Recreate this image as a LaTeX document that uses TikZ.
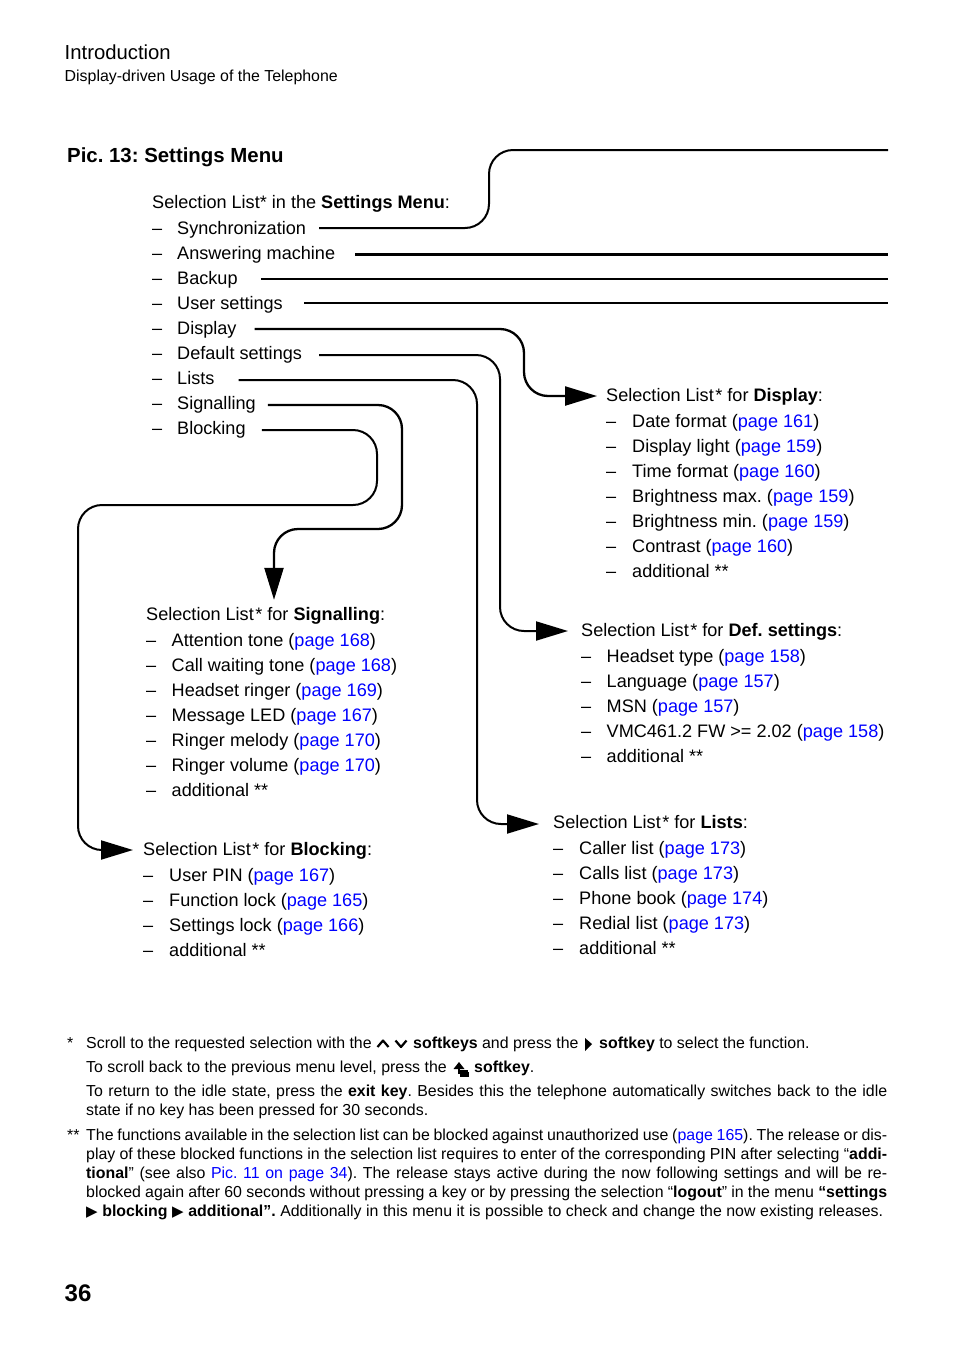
\documentclass[tikz,border=0pt]{standalone}
\usepackage{fontspec}
\setmainfont{Liberation Sans}
\newfontfamily\symfont{DejaVu Sans}
\usetikzlibrary{arrows.meta}
\definecolor{linkblue}{RGB}{0,0,255}
\frenchspacing
\newcommand{\pg}[1]{\textcolor{linkblue}{#1}}
\newcommand{\tri}{{\symfont\fontsize{15}{15}\selectfont ▶}}
\newcommand{\sel}{Selection List\kern1.5pt* for}
\newcommand{\entry}[5]{%
  \node[body] (#1-d) at (#2,#4) {–};
  \node[body] (#1) at (#3,#4) {#5};}
\newcommand{\fn}[3]{\node[foot] (#1) at (86,#2) {\makebox[801pt][s]{#3}};}
\tikzset{
  base/.style={anchor=base west,inner sep=0pt,text height=12pt,text depth=0pt},
  body/.style={base,font=\fontsize{18.1}{22}\selectfont},
  foot/.style={base,font=\fontsize{15.9}{20}\selectfont},
  link/.style={draw=black,line width=2pt,rounded corners=24pt},
  heavy/.style={link,line width=3pt},
  mid/.style={link,line width=2.3pt},
  head/.style={-{Triangle[length=32pt,width=19pt]}},
  softglyph/.style={draw=black,line width=2.2pt,line join=round},
}
\begin{document}
\begin{tikzpicture}[x=1pt,y=-1pt]
\useasboundingbox (0,0) rectangle (954,1352);
\fill[white] (0,0) rectangle (954,1352);

\node[base,font=\fontsize{20.3}{24}\selectfont] (intro) at (64.5,59) {Introduction};
\node[foot] (sub) at (64.5,81) {Display-driven Usage of the Telephone};
\node[base,font=\bfseries\fontsize{20.4}{24}\selectfont] (title) at (67,162) {Pic. 13: Settings Menu};

% main list
\node[body] (mainh) at (152,208) {Selection List* in the \textbf{Settings Menu}:};
\entry{sync}{152}{177}{234}{Synchronization}
\entry{answ}{152}{177}{259}{Answering machine}
\entry{back}{152}{177}{284}{Backup}
\entry{user}{152}{177}{309}{User settings}
\entry{disp}{152}{177}{334}{Display}
\entry{defs}{152}{177}{359}{Default settings}
\entry{lists}{152}{177}{384}{Lists}
\entry{sign}{152}{177}{409}{Signalling}
\entry{bloc}{152}{177}{434}{Blocking}

% display
\node[body] (disph) at (606,401) {\sel\ \textbf{Display}:};
\entry{d1}{606}{632}{427}{Date format (\pg{page 161})}
\entry{d2}{606}{632}{452}{Display light (\pg{page 159})}
\entry{d3}{606}{632}{477}{Time format (\pg{page 160})}
\entry{d4}{606}{632}{502}{Brightness max. (\pg{page 159})}
\entry{d5}{606}{632}{527}{Brightness min. (\pg{page 159})}
\entry{d6}{606}{632}{552}{Contrast (\pg{page 160})}
\entry{d7}{606}{632}{577}{additional **}

% default settings
\node[body] (defh) at (581,636) {\sel\ \textbf{Def. settings}:};
\entry{e1}{581}{606.5}{662}{Headset type (\pg{page 158})}
\entry{e2}{581}{606.5}{687}{Language (\pg{page 157})}
\entry{e3}{581}{606.5}{712}{MSN (\pg{page 157})}
\entry{e4}{581}{606.5}{737}{VMC461.2 FW >= 2.02 (\pg{page 158})}
\entry{e5}{581}{606.5}{762}{additional **}

% signalling
\node[body] (sigh) at (146,620) {\sel\ \textbf{Signalling}:};
\entry{s1}{146}{171.5}{646}{Attention tone (\pg{page 168})}
\entry{s2}{146}{171.5}{671}{Call waiting tone (\pg{page 168})}
\entry{s3}{146}{171.5}{696}{Headset ringer (\pg{page 169})}
\entry{s4}{146}{171.5}{721}{Message LED (\pg{page 167})}
\entry{s5}{146}{171.5}{746}{Ringer melody (\pg{page 170})}
\entry{s6}{146}{171.5}{771}{Ringer volume (\pg{page 170})}
\entry{s7}{146}{171.5}{796}{additional **}

% lists
\node[body] (lish) at (553,828) {\sel\ \textbf{Lists}:};
\entry{l1}{553}{579}{854}{Caller list (\pg{page 173})}
\entry{l2}{553}{579}{879}{Calls list (\pg{page 173})}
\entry{l3}{553}{579}{904}{Phone book (\pg{page 174})}
\entry{l4}{553}{579}{929}{Redial list (\pg{page 173})}
\entry{l5}{553}{579}{954}{additional **}

% blocking
\node[body] (bloh) at (143,855) {\sel\ \textbf{Blocking}:};
\entry{b1}{143}{169}{881}{User PIN (\pg{page 167})}
\entry{b2}{143}{169}{906}{Function lock (\pg{page 165})}
\entry{b3}{143}{169}{931}{Settings lock (\pg{page 166})}
\entry{b4}{143}{169}{956}{additional **}

% free ends on the right
\coordinate (e-sync) at (888,150);
\coordinate (e-answ) at (888,254);
\coordinate (e-back) at (888,279);
\coordinate (e-user) at (888,303);

% connectors
\draw[link] ([xshift=13pt]sync.east) -- (489,228) -- (489,150) -- (e-sync);
\draw[heavy] ([xshift=20pt,yshift=-1pt]answ.east) -- (e-answ);
\draw[link] ([xshift=23pt,yshift=-1pt]back.east) -- (e-back);
\draw[link] ([xshift=21pt]user.east) -- (e-user);
\draw[mid,head] ([xshift=18pt,yshift=-1pt]disp.east) -- (524,329) -- (524,396) -- ([xshift=-9pt,yshift=-1pt]disph.east -| disph.west);
\draw[link,head] ([xshift=17pt,yshift=-2pt]defs.east) -- (500,355) -- (500,631) -- ([xshift=-13pt,yshift=-1pt]defh.east -| defh.west);
\draw[link,head] ([xshift=24pt,yshift=-2pt]lists.east) -- (477,380) -- (477,824) -- ([xshift=-14pt,yshift=-2pt]lish.east -| lish.west);
\draw[mid,head] ([xshift=12pt,yshift=-2pt]sign.east) -- (402,405) -- (402,529) -- (274,529) -- ([xshift=128pt,yshift=8pt]sigh.north west);
\draw[link,head] ([xshift=16pt,yshift=-2pt]bloc.east) -- (377,430) -- (377,505) -- (78,505) -- (78,850) -- ([xshift=-10pt,yshift=-1pt]bloh.east -| bloh.west);

% footnotes
\node[foot] (star1) at (67,1048) {*};
\node[foot] (f1a) at (86,1048) {Scroll to the requested selection with the};
\draw[softglyph] (377.500,1047) -- (383,1040.500) -- (388.500,1047);
\draw[softglyph] (395.500,1040.500) -- (401,1047) -- (406.500,1040.500);
\node[foot] (f1b) at (413,1048) {\textbf{softkeys} and press the};
\fill (585,1038) -- (592,1044) -- (585,1051) -- cycle;
\node[foot] (f1c) at (599,1048) {\textbf{softkey} to select the function.};
\node[foot] (f2a) at (86,1072) {To scroll back to the previous menu level, press the};
\fill (459,1062) -- (453.500,1069) -- (464.500,1069) -- cycle;
\draw[line width=1.6pt] (459,1067) -- (459,1074) (459,1071) -- (468,1071);
\fill (460,1072) -- (468.500,1072) -- (468.500,1077) -- (460,1077) -- cycle;
\node[foot] (f2b) at (474,1072) {\textbf{softkey}.};
\fn{f3}{1096}{To return to the idle state, press the \textbf{exit key}. Besides this the telephone automatically switches back to the idle}
\node[foot] (f4) at (86,1115) {state if no key has been pressed for 30 seconds.};
\node[foot] (star2) at (67,1140) {**};
\fn{f5}{1140}{The functions available in the selection list can be blocked against unauthorized use (\pg{page 165}). The release or dis-}
\fn{f6}{1159}{play of these blocked functions in the selection list requires to enter of the corresponding PIN after selecting “\textbf{addi-}}
\fn{f7}{1178}{\textbf{tional}” (see also \pg{Pic. 11 on page 34}). The release stays active during the now following settings and will be re-}
\fn{f8}{1197}{blocked again after 60 seconds without pressing a key or by pressing the selection “\textbf{logout}” in the menu \textbf{“settings}}
\node[foot] (f9) at (86,1216) {\makebox[797pt][s]{\tri\ \textbf{blocking} \tri\ \textbf{additional”.} Additionally in this menu it is possible to check and change the now existing releases.}};

\node[base,font=\bfseries\fontsize{24}{28}\selectfont] (pagenum) at (64.5,1301) {36};
\end{tikzpicture}
\end{document}
